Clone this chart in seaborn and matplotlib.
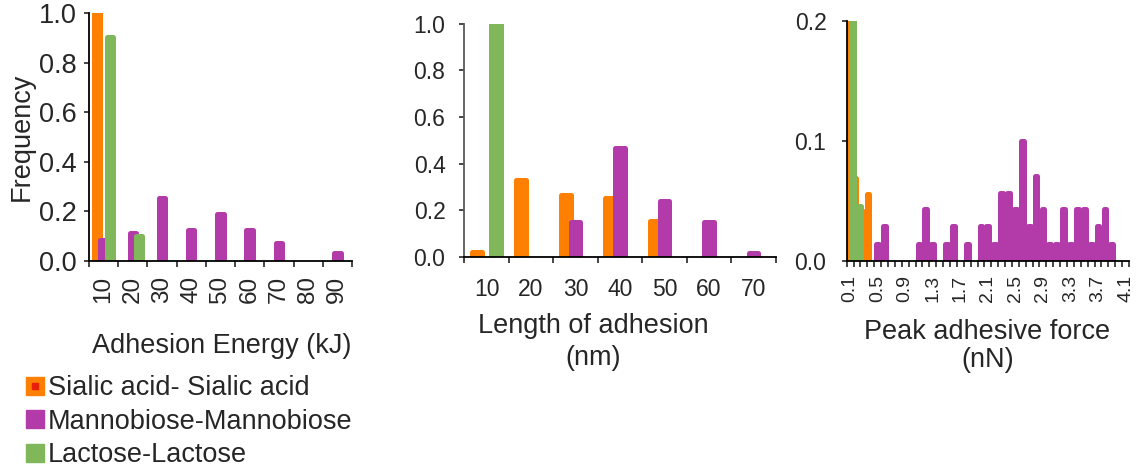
import numpy as np
import pandas as pd
import matplotlib
matplotlib.use('Agg')
import matplotlib.pyplot as plt
import seaborn as sns
from matplotlib.patches import Patch
from matplotlib.lines import Line2D
from matplotlib.legend_handler import HandlerTuple
from matplotlib.ticker import FormatStrFormatter

sns.set_style('ticks')
plt.rcParams['font.family'] = ['Liberation Sans', 'DejaVu Sans']

series = ['Sialic acid- Sialic acid', 'Mannobiose-Mannobiose', 'Lactose-Lactose']
colors = ['#FF7F00', '#B23BA9', '#80B75A']

# adhesion energy (kJ)
energy_bins = ['10', '20', '30', '40', '50', '60', '70', '80', '90']
energy_sialic = [1.0, 0, 0, 0, 0, 0, 0, 0, 0]
energy_manno = [0.086, 0.113, 0.253, 0.124, 0.19, 0.124, 0.073, 0, 0.032]
energy_lactose = [0.905, 0.102, 0, 0, 0, 0, 0, 0, 0]

# length of adhesion (nm)
length_bins = ['10', '20', '30', '40', '50', '60', '70']
length_sialic = [0.02, 0.332, 0.265, 0.252, 0.156, 0, 0]
length_manno = [0, 0, 0.149, 0.469, 0.239, 0.149, 0.015]
length_lactose = [1.0, 0, 0, 0, 0, 0, 0]

# peak adhesive force (nN)
force_bins = ['%.1f' % (0.1 * i) for i in range(1, 42)]
force_sialic = [0.83, 0.069, 0.042, 0.056] + [0] * 37
force_manno = [0, 0, 0, 0, 0.014, 0.029, 0, 0, 0, 0,
               0.014, 0.043, 0.014, 0, 0.014, 0.029, 0, 0.014, 0, 0.029,
               0.029, 0.014, 0.057, 0.057, 0.043, 0.1, 0.029, 0.071, 0.043, 0.014,
               0.014, 0.043, 0.014, 0.043, 0.043, 0.014, 0.029, 0.043, 0.014, 0,
               0]
force_lactose = [0.95, 0.046] + [0] * 39


def long_table(bins, sialic, manno, lactose):
    rows = []
    for name, vals in zip(series, [sialic, manno, lactose]):
        for b, v in zip(bins, vals):
            if v > 0:
                rows.append({'bin': b, 'series': name, 'freq': v})
    return pd.DataFrame(rows)


def draw_panel(ax, bins, sialic, manno, lactose, ymax, ystep, every, rot,
               xsize, ysize, xpad, ypad, width=0.66):
    df = long_table(bins, sialic, manno, lactose)
    sns.barplot(data=df, x='bin', y='freq', hue='series', order=bins,
                hue_order=series, palette=colors, width=width, saturation=1,
                errorbar=None, legend=False, ax=ax)
    for p in ax.patches:
        p.set_edgecolor(p.get_facecolor())
        p.set_linewidth(3.6)
        p.set_joinstyle('round')
    n = len(bins)
    ax.set_xlim(-0.5, n - 0.5)
    ax.set_ylim(0, ymax)
    ax.set_xticks(np.arange(n + 1) - 0.5)
    ax.set_xticklabels([])
    ax.set_xticks(np.arange(n), minor=True)
    ax.set_xticklabels([b if i % every == 0 else '' for i, b in enumerate(bins)],
                       minor=True, rotation=rot)
    ax.set_yticks(np.arange(0, ymax + 1e-9, ystep))
    ax.yaxis.set_major_formatter(FormatStrFormatter('%.1f'))
    ax.tick_params(axis='x', which='major', length=4.5, width=1.2, direction='out')
    ax.tick_params(axis='x', which='minor', length=0, pad=xpad, labelsize=xsize)
    ax.tick_params(axis='y', length=3.6, width=1.2, pad=ypad, labelsize=ysize)
    sns.despine(ax=ax)
    for s in ['left', 'bottom']:
        ax.spines[s].set_linewidth(1.3)
        ax.spines[s].set_color('black')
    ax.set_xlabel('')
    ax.set_ylabel('')


fig = plt.figure(figsize=(11.38, 4.67), dpi=100)
ax1 = fig.add_axes([0.0782, 0.4411, 0.2311, 0.531])
ax2 = fig.add_axes([0.408, 0.4497, 0.2736, 0.4996])
ax3 = fig.add_axes([0.744, 0.4411, 0.2481, 0.5146])

draw_panel(ax1, energy_bins, energy_sialic, energy_manno, energy_lactose,
           1.0, 0.2, 1, 90, 17.5, 19.5, 11, 5)
draw_panel(ax2, length_bins, length_sialic, length_manno, length_lactose,
           1.0, 0.2, 1, 0, 16.5, 16.5, 15, 10)
draw_panel(ax3, force_bins, force_sialic, force_manno, force_lactose,
           0.2, 0.1, 4, 90, 14, 16.5, 10, 11, width=1.2)
ax2.spines['left'].set_color('#595959')

ax1.set_ylabel('Frequency', fontsize=19.5)
ax1.yaxis.set_label_coords(-0.205, 0.5)
ax1.set_xlabel('Adhesion Energy (kJ)', fontsize=19.5)
ax1.xaxis.set_label_coords(0.505, -0.29)
ax2.set_xlabel('Length of adhesion\n(nm)', fontsize=19.5, linespacing=1.3)
ax2.xaxis.set_label_coords(0.415, -0.238)
ax3.set_xlabel('Peak adhesive force\n(nN)', fontsize=19.5, linespacing=1.1)
ax3.xaxis.set_label_coords(0.499, -0.24)

handles = [(Patch(facecolor=colors[0], edgecolor=colors[0]),
            Line2D([], [], marker='s', color='#E8200A', markersize=5, linestyle='')),
           Patch(facecolor=colors[1], edgecolor=colors[1]),
           Patch(facecolor=colors[2], edgecolor=colors[2])]
fig.legend(handles, series, loc='upper left', bbox_to_anchor=(0.0228, 0.196),
           frameon=False, fontsize=19.5, handlelength=0.65, handleheight=0.65,
           handletextpad=0.15, labelspacing=0.27, borderpad=0, borderaxespad=0,
           handler_map={tuple: HandlerTuple(ndivide=1)})

fig.savefig('out.png', dpi=100)
